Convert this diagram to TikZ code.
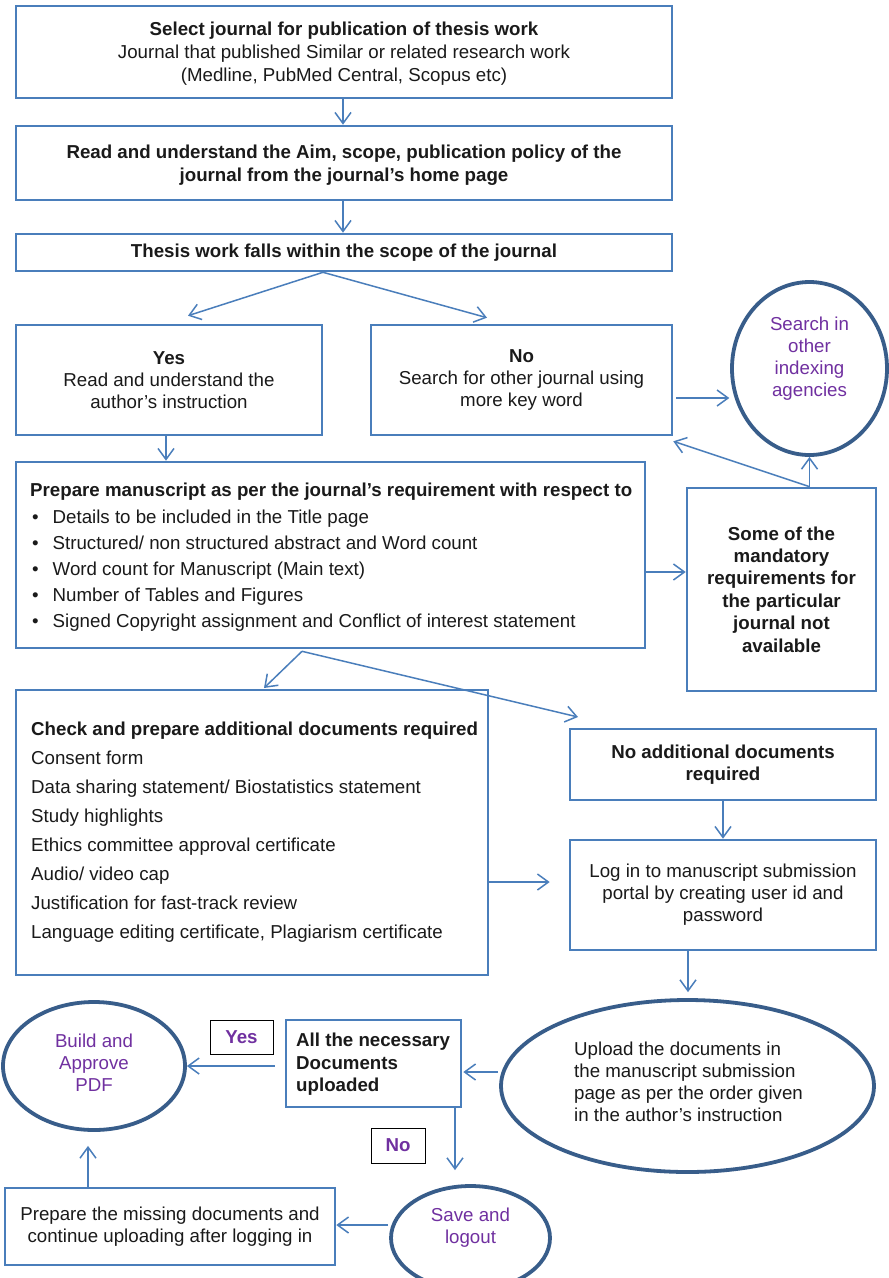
\documentclass[tikz,border=0pt]{standalone}
\usepackage{fontspec}
\setmainfont{Liberation Sans}
\usetikzlibrary{arrows.meta,shapes.geometric,calc}
\definecolor{boxblue}{HTML}{4A7EBB}
\definecolor{circblue}{HTML}{385D8A}
\definecolor{purp}{HTML}{7030A0}
\definecolor{txt}{HTML}{1A1A1A}
\newcommand\myfs[1]{\fontsize{18.7}{#1}\selectfont}
\begin{document}
\begin{tikzpicture}[x=1pt,y=-1pt,
  font=\myfs{22}, text=txt,
  box/.style={draw=boxblue, line width=2.6pt, rectangle, inner sep=0pt, align=center},
  circ/.style={draw=circblue, line width=3.8pt, ellipse, inner sep=0pt, align=center, text=purp},
  arr/.style={draw=boxblue, line width=1.5pt, -{Straight Barb[length=11pt,width=16pt,line width=1.5pt]}},
  lbl/.style={draw=black, line width=1pt, fill=white, text=purp, font=\myfs{22}\bfseries, inner sep=0pt},
  ltxt/.style={anchor=west, align=left, inner sep=0pt}
]
\useasboundingbox (0,0) rectangle (889,1278);
\fill[white] (0,0) rectangle (889,1278);

% boxes
\node[box, minimum width=656, minimum height=92, font=\myfs{23}, text depth=0pt] (b1) at (344,52)
  {\textbf{Select journal for publication of thesis work}\\Journal that published Similar or related research work\\(Medline, PubMed Central, Scopus etc)};
\node[box, minimum width=656, minimum height=74, font=\myfs{22.5}\bfseries, text depth=0pt] (b2) at (344,163)
  {Read and understand the Aim, scope, publication policy of the\\journal from the journal’s home page};
\node[box, minimum width=656, minimum height=37, font=\myfs{22}\bfseries] (b3) at (344,252.5)
  {Thesis work falls within the scope of the journal};
\node[box, minimum width=306, minimum height=110] (yes) at (169,380)
  {\textbf{Yes}\\Read and understand the\\author’s instruction};
\node[box, minimum width=301, minimum height=110] (no) at (521.5,380)
  {\textbf{No}\\Search for other journal using\\more key word};
\node[circ, minimum width=155, minimum height=173] (search) at (809.5,368.5) {};
\node[text=purp, align=center, inner sep=0pt] (searchtxt) at (809.5,358.5) {Search in\\other\\indexing\\agencies};

\node[box, minimum width=629, minimum height=186] (prep) at (330.5,555) {};
\node[ltxt, font=\myfs{26.2}] (preptxt) at (30,557.5)
  {\textbf{Prepare manuscript as per the journal’s requirement with respect to}\\
   \hspace*{2pt}\makebox[20.5pt][l]{•}Details to be included in the Title page\\
   \hspace*{2pt}\makebox[20.5pt][l]{•}Structured/ non structured abstract and Word count\\
   \hspace*{2pt}\makebox[20.5pt][l]{•}Word count for Manuscript (Main text)\\
   \hspace*{2pt}\makebox[20.5pt][l]{•}Number of Tables and Figures\\
   \hspace*{2pt}\makebox[20.5pt][l]{•}Signed Copyright assignment and Conflict of interest statement};

\node[box, minimum width=189, minimum height=203, font=\myfs{22.4}\bfseries] (some) at (781.5,589.5)
  {Some of the\\mandatory\\requirements for\\the particular\\journal not\\available};

\node[box, minimum width=472, minimum height=285] (check) at (252,832.5) {};
\node[ltxt, font=\myfs{29}] (checktxt) at (31,832.5)
  {\textbf{Check and prepare additional documents required}\\
   Consent form\\
   Data sharing statement/ Biostatistics statement\\
   Study highlights\\
   Ethics committee approval certificate\\
   Audio/ video cap\\
   Justification for fast-track review\\
   Language editing certificate, Plagiarism certificate};

\node[box, minimum width=306, minimum height=71, font=\myfs{22}\bfseries] (noadd) at (723,764.5)
  {No additional documents\\required};
\node[box, minimum width=306, minimum height=110] (login) at (723,895)
  {Log in to manuscript submission\\portal by creating user id and\\password};

\node[circ, minimum width=373, minimum height=172] (upload) at (687.5,1086) {};
\node[ltxt] (uptxt) at (574,1082)
  {Upload the documents in\\the manuscript submission\\page as per the order given\\in the author’s instruction};

\node[box, minimum width=175, minimum height=87] (all) at (373.5,1063.5) {};
\node[ltxt, font=\myfs{22.5}\bfseries] (alltxt) at (296,1064.5)
  {All the necessary\\Documents\\uploaded};

\node[lbl, minimum width=63, minimum height=34] (yeslbl) at (241.5,1037) {Yes};
\node[circ, minimum width=182, minimum height=128] (build) at (94,1066) {};
\node[text=purp, align=center, inner sep=0pt] (buildtxt) at (94,1063) {Build and\\Approve\\PDF};
\node[lbl, minimum width=54, minimum height=35] (nolbl) at (398,1145.5) {No};
\node[circ, minimum width=159, minimum height=104] (save) at (470.5,1238) {};
\node[text=purp, align=center, inner sep=0pt] (savetxt) at (470.5,1227.5) {Save and\\logout};
\node[box, minimum width=330, minimum height=77] (missing) at (170,1226.5)
  {Prepare the missing documents and\\continue uploading after logging in};

% connectors
\draw[arr] ($(b1.south)+(-1,0)$) coordinate (b1s) -- (b1s |- b2.north);
\draw[arr] ($(b2.south)+(-1,0)$) coordinate (b2s) -- (b2s |- b3.north);
\coordinate (apex1) at ($(b3.south)+(-21,0)$);
\coordinate (tipyes) at ($(yes.north)+(19,-8)$);
\coordinate (tipno) at ($(no.north)+(-34.5,-6)$);
\draw[arr] (apex1) -- (tipyes);
\draw[arr] (apex1) -- (tipno);
\draw[arr] ($(yes.south)+(-3,0)$) coordinate (ys) -- (ys |- prep.north);
\draw[arr] ($(no.east)+(3,18)$) coordinate (ne) -- ($(ne)+(53,0)$) coordinate (netip);
\draw[arr] (some.north -| search.south) -- (search.south);
\draw[arr] (some.north -| search.south) -- ($(no.south east)+(0,5)$);
\draw[arr] ($(prep.east)+(0,17)$) coordinate (pe) -- (pe -| some.west);
\coordinate (apex2) at ($(prep.south)+(-28.5,2)$);
\coordinate (tipcheck) at (264,688);
\coordinate (tipnoadd) at (578,717);
\draw[arr] (apex2) -- (tipcheck);
\draw[arr] (apex2) -- (tipnoadd);
\draw[arr] (noadd.south) -- (login.north);
\draw[arr, shorten >=19pt] ($(check.east)+(0,49.5)$) coordinate (ce) -- (ce -| login.west);
\draw[arr, shorten >=6pt] ($(login.south)+(-35,0)$) coordinate (ls) -- (ls |- upload.north);
\draw[arr, shorten >=1pt] ($(upload.west)+(-1,-14)$) coordinate (uw) -- (uw -| all.east);
\draw[arr] ($(all.west)+(-10,2.5)$) coordinate (aw) -- (aw -| build.east);
\draw[arr, shorten >=14pt] ($(all.south)+(81.5,0)$) coordinate (as) -- (as |- save.north);
\draw[arr] ($(save.west)+(-1,-13)$) coordinate (sw) -- (sw -| missing.east);
\draw[arr, shorten >=14pt] ($(missing.north)+(-82,0)$) coordinate (mn) -- (mn |- build.south);
\end{tikzpicture}
\end{document}
